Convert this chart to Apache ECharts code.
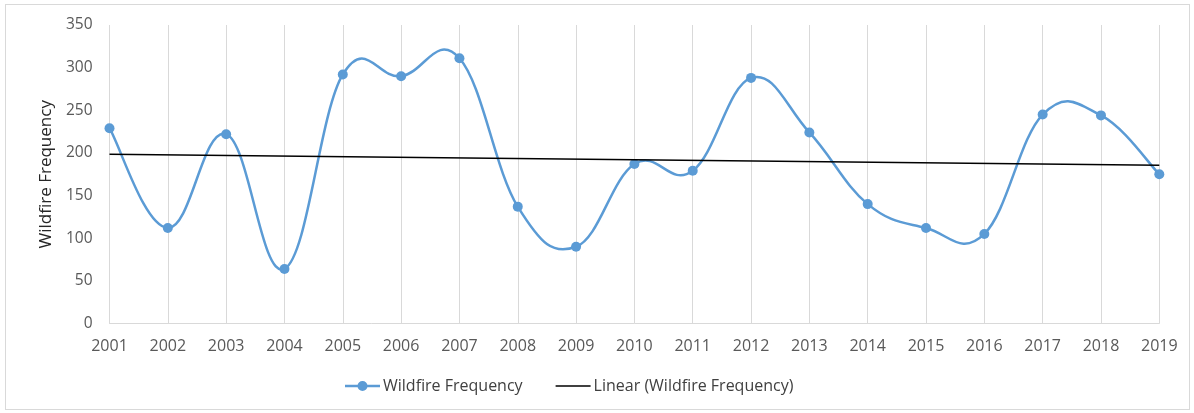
<!DOCTYPE html>
<html>
<head>
<meta charset="utf-8">
<script src="https://cdn.jsdelivr.net/npm/echarts@6/dist/echarts.min.js"></script>
<style>
html,body{margin:0;padding:0;background:#fff;}
#frame{position:absolute;left:5px;top:4px;width:1185px;height:406px;border:1px solid #d9d9d9;box-sizing:border-box;}
#chart{position:absolute;left:0;top:0;width:1194px;height:413px;}
</style>
</head>
<body>
<div id="frame"></div>
<div id="chart"></div>
<script>
const years = ['2001','2002','2003','2004','2005','2006','2007','2008','2009','2010','2011','2012','2013','2014','2015','2016','2017','2018','2019'];
const wildfireFrequency = [229,112,222,64,292,290,311,137,90,187,179,288,224,140,112,105,245,244,175];
const trendYears = ['2001','2019'];
const trendValues = [198.4,185.5];
const yTicks = [0,50,100,150,200,250,300,350];

const FONT = 'Open Sans';
const BLUE = '#5b9bd5';
const TENSION = 0.2;

function smoothPath(api){
  const pts = wildfireFrequency.map((v,i)=>api.coord([i,v]));
  let d = 'M' + pts[0][0] + ' ' + pts[0][1];
  for(let i=0;i<pts.length-1;i++){
    const p0 = pts[Math.max(i-1,0)], p1 = pts[i], p2 = pts[i+1], p3 = pts[Math.min(i+2,pts.length-1)];
    const c1x = p1[0] + (p2[0]-p0[0])*TENSION, c1y = p1[1] + (p2[1]-p0[1])*TENSION;
    const c2x = p2[0] - (p3[0]-p1[0])*TENSION, c2y = p2[1] - (p3[1]-p1[1])*TENSION;
    d += ' C' + c1x + ' ' + c1y + ' ' + c2x + ' ' + c2y + ' ' + p2[0] + ' ' + p2[1];
  }
  return d;
}

const lineDotIcon = 'path://M0,3.75 L12.7,3.75 L12.7,6.25 L0,6.25 Z M22.3,3.75 L35,3.75 L35,6.25 L22.3,6.25 Z M12.5,5 A5,5 0 1,1 22.5,5 A5,5 0 1,1 12.5,5 Z';

const chart = echarts.init(document.getElementById('chart'));
chart.setOption({
  animation:false,
  backgroundColor:'transparent',
  grid:{left:109.5,right:34.7,top:25,bottom:89.5},
  legend:{
    bottom:14,left:340,
    itemWidth:35,itemHeight:10,itemGap:33,
    textStyle:{fontFamily:FONT,fontSize:16,color:'#404040',padding:[0,0,0,-2]},
    data:[
      {name:'Wildfire Frequency',icon:lineDotIcon,itemStyle:{color:BLUE}},
      {name:'Linear (Wildfire Frequency)',icon:'path://M0,0 L35,0 L35,1.5 L0,1.5 Z'}
    ]
  },
  xAxis:{
    type:'category',data:years,boundaryGap:false,
    axisLine:{lineStyle:{color:'#d9d9d9',width:1}},
    axisTick:{show:false},
    splitLine:{show:true,lineStyle:{color:'#d9d9d9',width:1}},
    axisLabel:{fontFamily:FONT,fontSize:16,color:'#595959',margin:15}
  },
  yAxis:{
    type:'value',min:yTicks[0],max:yTicks[yTicks.length-1],interval:50,
    name:'Wildfire Frequency',nameLocation:'middle',nameGap:54,nameRotate:90,
    nameTextStyle:{fontFamily:FONT,fontSize:17,color:'#262626'},
    axisLine:{show:false},axisTick:{show:false},splitLine:{show:false},
    axisLabel:{fontFamily:FONT,fontSize:15.5,color:'#595959',margin:17}
  },
  series:[
    {
      name:'Wildfire Frequency',type:'line',data:wildfireFrequency,
      symbol:'circle',symbolSize:10,
      lineStyle:{color:BLUE,width:2.5,opacity:0},
      itemStyle:{color:BLUE},z:4
    },
    {
      name:'Wildfire Frequency',type:'custom',data:[0],
      renderItem:function(params,api){
        return {type:'path',shape:{pathData:smoothPath(api)},
          style:{fill:null,stroke:BLUE,lineWidth:2.5}};
      },z:2,silent:true
    },
    {
      name:'Linear (Wildfire Frequency)',type:'line',
      data:trendYears.map((y,i)=>[y,trendValues[i]]),
      symbol:'none',lineStyle:{color:'#000',width:1.5},itemStyle:{color:'#000'},z:5
    }
  ]
});
</script>
</body>
</html>
